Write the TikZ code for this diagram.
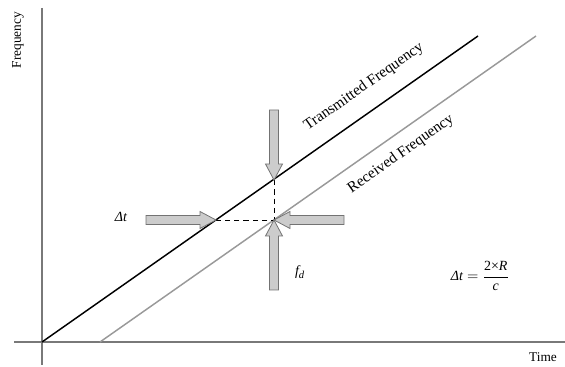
\documentclass[tikz,border=0pt]{standalone}
\usepackage{fontspec}
\setmainfont{Liberation Serif}
\tikzset{
  blockarrow/.pic={
    \draw[fill=gray!40,draw=gray!90!black,line width=0.6pt]
      (0,0) -- (-16,8.5) -- (-16,4.5) -- (-70,4.5) -- (-70,-4.5)
      -- (-16,-4.5) -- (-16,-8.5) -- cycle;
  },
  lbl/.style={font=\fontsize{10}{12}\selectfont,inner sep=0pt},
  mathlbl/.style={font=\fontsize{10.5}{12}\selectfont,inner sep=0pt},
  slantlbl/.style={font=\fontsize{11.5}{13}\selectfont,inner sep=0pt,rotate=35.06}
}
\begin{document}
\begin{tikzpicture}[x=0.75pt,y=-0.75pt]
  \useasboundingbox (0,0) rectangle (565,367);
  % axes
  \coordinate (o) at (42,342);
  \draw[gray!95!black,line width=0.9pt] (42,8) -- (42,365);
  \draw[gray!95!black,line width=0.9pt] (14,342) -- (565,342);
  \node[lbl,rotate=90] (flabel) at (18,40) {Frequency};
  \node[lbl] (tlabel) at (543,357) {Time};

  % the two ramps
  \coordinate (tstart) at (o);
  \coordinate (tend) at (478,36);
  \coordinate (rstart) at (100,342);
  \coordinate (rend) at (536,36);
  \draw[black,line width=1.1pt] (tstart) -- (tend);
  \draw[gray!80,line width=1.1pt] (rstart) -- (rend);
  \node[slantlbl] (txlabel) at (364,87) {Transmitted Frequency};
  \node[slantlbl] (rxlabel) at (401,154) {Received Frequency};

  % delay and doppler marks
  \coordinate (tx) at (274,180);
  \coordinate (rx) at (274,220);
  \coordinate (dx) at (216,220);
  \draw[dashed,dash pattern=on 4pt off 3pt,line width=0.5pt] (tx) -- (rx) -- (dx);
  \foreach \pt/\ang in {tx/-90,rx/90,dx/0,rx/180}
    \pic[rotate=\ang] at (\pt) {blockarrow};

  \node[mathlbl] (dtlabel) at (121,217) {\itshape Δt};
  \node[mathlbl] (fdlabel) at (300,272) {$\mbox{\itshape f}_{\mbox{\footnotesize\itshape d}}$};
  \node[mathlbl] (eqlabel) at (480,276)
    {$\displaystyle\mbox{\itshape Δt} = \frac{\mbox{2×\itshape R}}{\mbox{\itshape c}}$};
\end{tikzpicture}
\end{document}
